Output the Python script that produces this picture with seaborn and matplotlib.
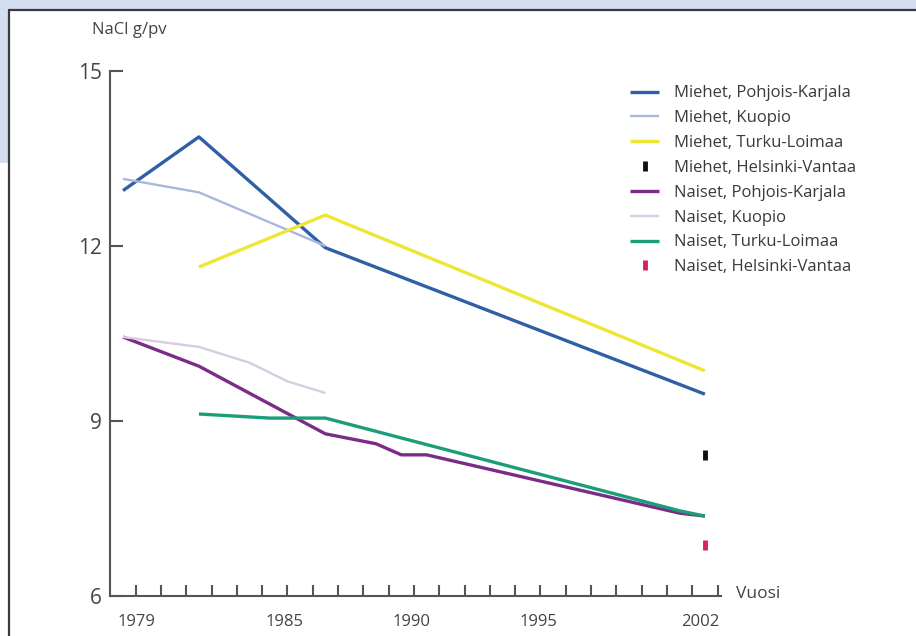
import numpy as np
import pandas as pd
import matplotlib
matplotlib.use("Agg")
import matplotlib.pyplot as plt
from matplotlib.patches import Rectangle
from matplotlib.lines import Line2D
import seaborn as sns

# values (NaCl g/day)
mpk_years = [1979, 1982, 1987, 2002]
mpk_vals = [12.95, 13.87, 11.97, 9.46]

mku_years = [1979, 1982, 1987]
mku_vals = [13.15, 12.92, 12.0]

mtl_years = [1982, 1987, 2002]
mtl_vals = [11.64, 12.53, 9.86]

mhv_years = [2002]
mhv_vals = [8.42]

npk_years = [1979, 1982, 1987, 1989, 1990, 1991, 2001, 2002]
npk_vals = [10.44, 9.94, 8.78, 8.61, 8.42, 8.42, 7.42, 7.37]

nku_years = [1979, 1982, 1984, 1985.5, 1987]
nku_vals = [10.44, 10.27, 10.0, 9.68, 9.48]

ntl_years = [1982, 1984.8, 1987, 2001, 2002]
ntl_vals = [9.12, 9.05, 9.05, 7.46, 7.37]

nhv_years = [2002]
nhv_vals = [6.87]

y_ticks = [6, 9, 12, 15]
x_labels = ["1979", "1985", "1990", "1995", "2002"]

series = [
    ("Miehet, Pohjois-Karjala", mpk_years, mpk_vals, "#2f5fa6", 2.4),
    ("Miehet, Kuopio", mku_years, mku_vals, "#a8b8dc", 1.7),
    ("Miehet, Turku-Loimaa", mtl_years, mtl_vals, "#eee634", 2.4),
    ("Miehet, Helsinki-Vantaa", mhv_years, mhv_vals, "#111111", None),
    ("Naiset, Pohjois-Karjala", npk_years, npk_vals, "#7a2c86", 2.4),
    ("Naiset, Kuopio", nku_years, nku_vals, "#d9cbe3", 1.7),
    ("Naiset, Turku-Loimaa", ntl_years, ntl_vals, "#1c9d7a", 2.4),
    ("Naiset, Helsinki-Vantaa", nhv_years, nhv_vals, "#d3245f", None),
]

sns.set_style("white")
plt.rcParams["font.family"] = ["Open Sans", "DejaVu Sans"]

W, H = 916, 636
fig = plt.figure(figsize=(W / 100, H / 100), dpi=100)
fig.patch.set_facecolor("white")

# screenshot frame: light blue strips and dark border
bg = "#d4dcf0"
fig.patches.append(Rectangle((0, 1 - 9 / H), 1, 9 / H, transform=fig.transFigure,
                             facecolor=bg, edgecolor="none", zorder=0))
fig.patches.append(Rectangle((0, 1 - 163 / H), 8 / W, 163 / H, transform=fig.transFigure,
                             facecolor=bg, edgecolor="none", zorder=0))
fig.lines.append(Line2D([8.5 / W, 1], [1 - 9.5 / H, 1 - 9.5 / H], transform=fig.transFigure,
                        color="#3a3a3a", lw=1.6))
fig.lines.append(Line2D([8.5 / W, 8.5 / W], [0, 1 - 9.5 / H], transform=fig.transFigure,
                        color="#3a3a3a", lw=1.6))

ax = fig.add_axes([110 / W, 1 - 596 / H, 611 / W, 525 / H])
ax.set_facecolor("none")

for name, xs, ys, col, lw in series:
    df = pd.DataFrame({"year": xs, "nacl": ys})
    if lw is None:
        sns.lineplot(data=df, x="year", y="nacl", ax=ax, color=col, linestyle="",
                     marker="|", markersize=7, markeredgewidth=3.5,
                     markeredgecolor=col, label=name)
    else:
        sns.lineplot(data=df, x="year", y="nacl", ax=ax, color=col, lw=lw,
                     label=name, solid_capstyle="butt")

x0 = 1979 + (110 - 123) / 25.3
x1 = 1979 + (721 - 123) / 25.3
ax.set_xlim(x0, x1)
ax.set_ylim(6, 15)

for s in ["top", "right"]:
    ax.spines[s].set_visible(False)
for s in ["left", "bottom"]:
    ax.spines[s].set_color("#555555")
    ax.spines[s].set_linewidth(1.5)

ax.set_yticks(y_ticks)
ax.set_yticklabels([str(v) for v in y_ticks])
ax.tick_params(axis="y", left=True, direction="in", length=9, width=1.5, color="#555555",
               labelsize=15, labelcolor="#444444", pad=6)

ax.set_xticks(np.arange(1979.5, 2003, 1.0), minor=True)
ax.set_xticks([1979.55, 1985.4, 1990.42, 1995.44, 2001.81])
ax.set_xticklabels(x_labels)
ax.tick_params(axis="x", which="minor", bottom=True, direction="in", length=8, width=1.5,
               color="#555555")
ax.tick_params(axis="x", which="major", bottom=True, length=0, labelsize=12,
               labelcolor="#444444", pad=13)
ax.set_xlabel("")
ax.set_ylabel("")

fig.text(129 / W, 1 - 30 / H, "NaCl g/pv", ha="center", va="center", fontsize=12, color="#444444")
fig.text(736 / W, 1 - 594 / H, "Vuosi", ha="left", va="center", fontsize=12.5, color="#444444")

leg = ax.legend(loc="upper left", bbox_to_anchor=(622 / W, 1 - 77 / H),
                bbox_transform=fig.transFigure, frameon=False, fontsize=12,
                handlelength=1.74, handletextpad=0.85, labelspacing=0.53, borderpad=0)
for t in leg.get_texts():
    t.set_color("#3a3a3a")

fig.savefig("out.png", dpi=100)
